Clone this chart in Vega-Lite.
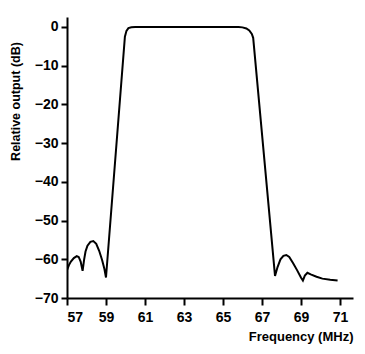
{
  "$schema": "https://vega.github.io/schema/vega-lite/v6.json",
  "autosize": {"type": "none"},
  "padding": {"left": 67, "top": 17, "right": 12, "bottom": 56},
  "width": 286,
  "height": 281,
  "background": "white",
  "data": {"values": [
    {"f": 57.0, "db": -62.8},
    {"f": 57.1, "db": -61.5},
    {"f": 57.2, "db": -60.6},
    {"f": 57.35, "db": -59.7},
    {"f": 57.5, "db": -59.2},
    {"f": 57.6, "db": -59.4},
    {"f": 57.7, "db": -60.6},
    {"f": 57.8, "db": -63.0},
    {"f": 57.88, "db": -60.0},
    {"f": 57.95, "db": -58.0},
    {"f": 58.05, "db": -56.5},
    {"f": 58.2, "db": -55.5},
    {"f": 58.35, "db": -55.3},
    {"f": 58.5, "db": -56.0},
    {"f": 58.65, "db": -57.8},
    {"f": 58.8, "db": -60.2},
    {"f": 58.92, "db": -62.5},
    {"f": 59.0, "db": -64.7},
    {"f": 59.97, "db": -2.5},
    {"f": 60.05, "db": -1.0},
    {"f": 60.15, "db": -0.3},
    {"f": 60.3, "db": -0.05},
    {"f": 60.5, "db": 0},
    {"f": 65.8, "db": 0},
    {"f": 66.0, "db": -0.1},
    {"f": 66.2, "db": -0.4},
    {"f": 66.35, "db": -0.9},
    {"f": 66.48, "db": -1.8},
    {"f": 66.55, "db": -2.8},
    {"f": 67.67, "db": -64.3},
    {"f": 67.8, "db": -62.0},
    {"f": 67.95, "db": -60.0},
    {"f": 68.1, "db": -59.1},
    {"f": 68.25, "db": -58.9},
    {"f": 68.4, "db": -59.4},
    {"f": 68.6, "db": -61.0},
    {"f": 68.8, "db": -62.8},
    {"f": 69.0, "db": -64.7},
    {"f": 69.1, "db": -65.5},
    {"f": 69.2, "db": -64.2},
    {"f": 69.33, "db": -63.5},
    {"f": 69.5, "db": -63.9},
    {"f": 69.8, "db": -64.5},
    {"f": 70.1, "db": -65.0},
    {"f": 70.5, "db": -65.3},
    {"f": 70.88, "db": -65.5}
  ]},
  "mark": {"type": "line", "color": "black", "strokeWidth": 2, "clip": true},
  "encoding": {
    "x": {
      "field": "f", "type": "quantitative",
      "scale": {"domain": [57, 71.67], "nice": false, "zero": false},
      "axis": {
        "values": [57, 59, 61, 63, 65, 67, 69, 71],
        "title": "Frequency (MHz)",
        "titleAnchor": "end",
        "titleAlign": "right",
        "titleFont": "Liberation Sans", "titleFontSize": 13, "titleFontWeight": "bold",
        "titlePadding": 6,
        "labelFont": "Liberation Sans", "labelFontSize": 14, "labelFontWeight": "bold",
        "labelPadding": 5,
        "grid": false, "domainColor": "black", "domainWidth": 2,
        "tickColor": "black", "tickWidth": 2, "tickSize": 7,
        "labelColor": "black", "titleColor": "black"
      }
    },
    "y": {
      "field": "db", "type": "quantitative",
      "scale": {"domain": [-70, 2.58], "nice": false, "zero": false},
      "axis": {
        "values": [0, -10, -20, -30, -40, -50, -60, -70],
        "labelExpr": "datum.value < 0 ? '\u2212' + abs(datum.value) : datum.label",
        "title": "Relative output (dB)",
        "titleAlign": "center",
        "titleY": 84,
        "titleX": -45,
        "titleFont": "Liberation Sans", "titleFontSize": 12.5, "titleFontWeight": "bold",
        "labelFont": "Liberation Sans", "labelFontSize": 14, "labelFontWeight": "bold",
        "labelPadding": 3,
        "grid": false, "domainColor": "black", "domainWidth": 2,
        "tickColor": "black", "tickWidth": 2, "tickSize": 6,
        "labelColor": "black", "titleColor": "black"
      }
    }
  },
  "config": {"view": {"stroke": null}}
}
